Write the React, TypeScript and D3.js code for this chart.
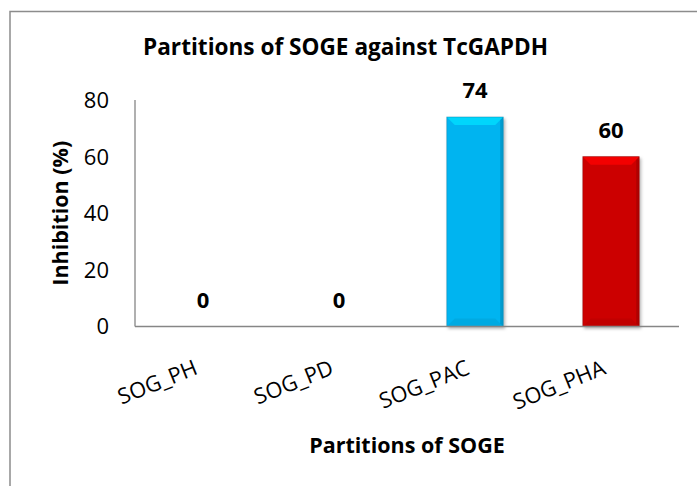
import React from "react";
import * as d3 from "d3";

const categories = ["SOG_PH", "SOG_PD", "SOG_PAC", "SOG_PHA"];
const values = [0, 0, 74, 60];
const barColors = ["#00B0F0", "#00B0F0", "#00B4F0", "#CC0000"];
const yTicks = [0, 20, 40, 60, 80];
const title = "Partitions of SOGE against TcGAPDH";
const xTitle = "Partitions of SOGE";
const yTitle = "Inhibition (%)";

const W = 697;
const H = 486;
const FONT = "'Open Sans', 'Liberation Sans', sans-serif";

export default function App() {
  const left = 135;
  const right = 679;
  const top = 100;
  const bottom = 326.5;

  const x = d3.scaleBand<string>().domain(categories).range([left, right]).paddingInner(0.585).paddingOuter(0.2925);
  const y = d3.scaleLinear().domain([0, 80]).range([bottom, top]);

  const bev = 8;

  return (
    <svg width={W} height={H} style={{ position: "absolute", left: 0, top: 0, background: "#fff" }} fontFamily={FONT}>
      <defs>
        <filter id="sh" x="-20%" y="-5%" width="140%" height="115%">
          <feDropShadow dx="1.5" dy="2" stdDeviation="1.5" floodColor="#000" floodOpacity="0.3" />
        </filter>
      </defs>
      <rect x={10} y={11.5} width={W} height={H} fill="#fff" stroke="#8c8c8c" strokeWidth={1.5} />
      <text x={345.5} y={55} textAnchor="middle" fontWeight="bold" fontSize={22.6} fill="#000">
        {title}
      </text>
      {yTicks.map((t) => (
        <text key={t} x={109} y={y(t)} dy="0.36em" textAnchor="end" fontSize={22} fill="#000">
          {t}
        </text>
      ))}
      <text
        transform={`translate(68,${(top + bottom) / 2}) rotate(-90)`}
        textAnchor="middle"
        fontWeight="bold"
        fontSize={21.5}
        fill="#000"
      >
        {yTitle}
      </text>
      {categories.map((c, i) => {
        const v = values[i];
        const x0 = x(c)!;
        const bw = x.bandwidth();
        const x1 = x0 + bw;
        const y0 = y(v);
        const y1 = y(0);
        const col = d3.color(barColors[i])!;
        const light = col.brighter(0.6).formatHex();
        const dark = col.darker(0.5).formatHex();
        const darker = col.darker(1.2).formatHex();
        return (
          <g key={c}>
            {v > 0 && (
              <g filter="url(#sh)">
                <rect x={x0} y={y0} width={bw} height={y1 - y0} fill={barColors[i]} />
                <polygon
                  points={`${x0},${y0} ${x1},${y0} ${x1 - bev},${y0 + bev} ${x0 + bev},${y0 + bev}`}
                  fill={light}
                  opacity={0.8}
                />
                <polygon
                  points={`${x0},${y1} ${x1},${y1} ${x1 - bev},${y1 - bev} ${x0 + bev},${y1 - bev}`}
                  fill={dark}
                  opacity={0.35}
                />
                <polygon
                  points={`${x1},${y0} ${x1},${y1} ${x1 - 3},${y1 - 3} ${x1 - 3},${y0 + 3}`}
                  fill={darker}
                  opacity={0.4}
                />
                <rect x={x0} y={y0} width={bw} height={y1 - y0} fill="none" stroke={darker} strokeOpacity={0.5} strokeWidth={0.8} />
              </g>
            )}
            <text x={x0 + bw / 2} y={y0 - 19} textAnchor="middle" fontWeight="bold" fontSize={22} fill="#000">
              {v}
            </text>
            <text
              transform={`translate(${x0 + bw / 2 - 4},${bottom + 47}) rotate(-22)`}
              textAnchor="end"
              fontSize={21.8}
              fill="#000"
            >
              {c}
            </text>
          </g>
        );
      })}
      <line x1={left} x2={left} y1={top} y2={bottom} stroke="#868686" strokeWidth={1.3} />
      <line x1={left} x2={right} y1={bottom} y2={bottom} stroke="#868686" strokeWidth={1.3} />
      <text x={(left + right) / 2} y={453} textAnchor="middle" fontWeight="bold" fontSize={21.5} fill="#000">
        {xTitle}
      </text>
    </svg>
  );
}
